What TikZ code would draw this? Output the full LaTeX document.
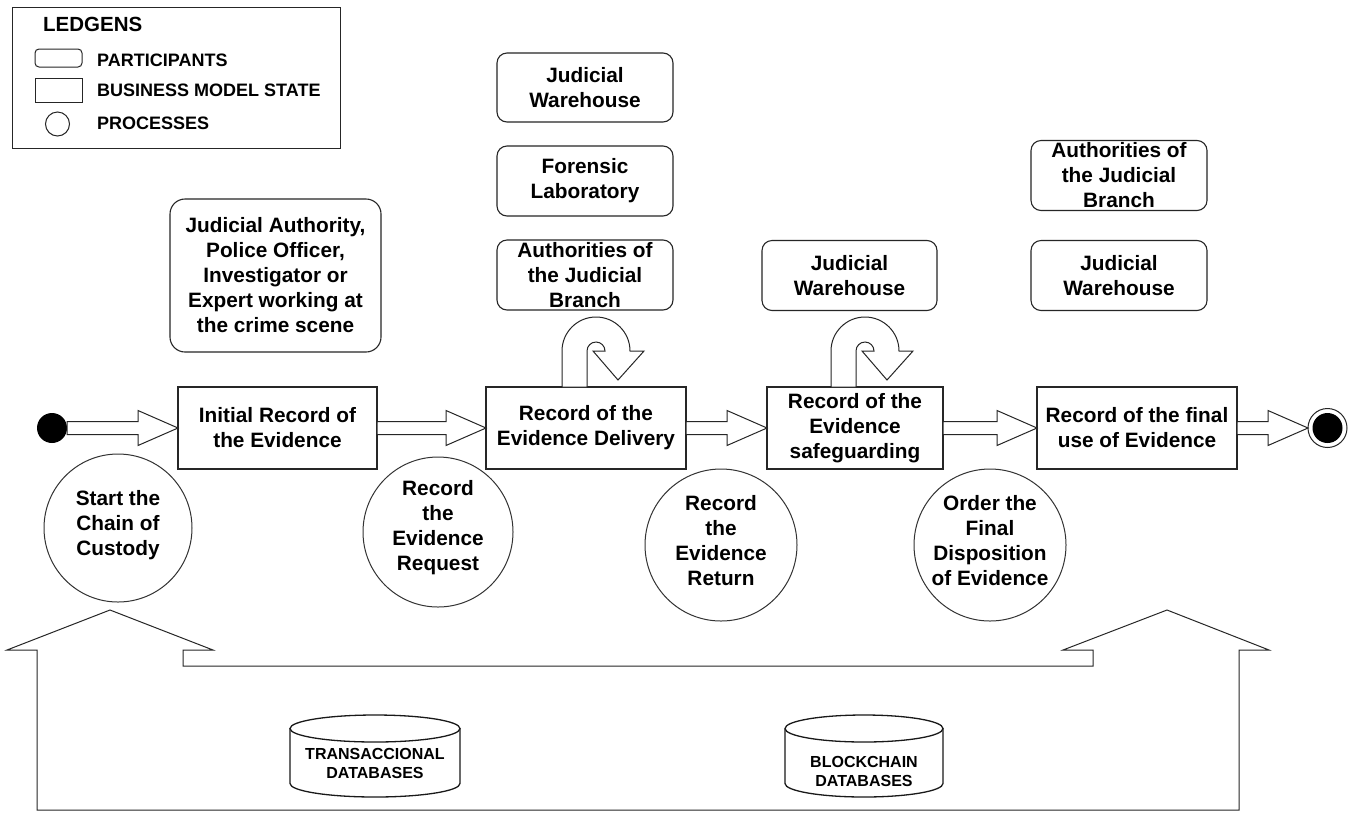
\documentclass[tikz,border=0pt]{standalone}
\usepackage{fontspec}
\setmainfont{Liberation Sans}
\usetikzlibrary{calc}
\tikzset{
  lbl/.style={font=\bfseries\fontsize{20.8}{25}\selectfont, align=center, text=black, inner sep=0pt, outer sep=0pt},
  part/.style={lbl, draw=black!85, line width=1.1pt, rounded corners=10pt, minimum width=176pt, minimum height=70pt},
  state/.style={lbl, draw=black!85, line width=1.1pt, minimum height=82pt},
  proc/.style={lbl},
  ring/.style={draw=black!80, line width=1pt},
  flow/.style={draw=black!85, line width=1pt, fill=white, line join=miter},
  dbline/.style={draw=black!90, line width=1.3pt, fill=white},
  dbtxt/.style={font=\bfseries\fontsize{16}{19}\selectfont, align=center, inner sep=0pt},
  legtxt/.style={font=\bfseries\fontsize{18}{21}\selectfont, anchor=west, inner sep=0pt},
}
\newcommand\fatarrow[2]{%
  \draw[flow] let \p1=(#1), \p2=(#2) in
    (\x1,\y1+6.5pt) -- (\x2-40pt,\y1+6.5pt) -- (\x2-40pt,\y1+17.5pt) -- (\x2,\y1)
    -- (\x2-40pt,\y1-17.5pt) -- (\x2-40pt,\y1-6.5pt) -- (\x1,\y1-6.5pt) -- cycle;}
\newcommand\loopback[1]{%
  \draw[flow] let \p1=(#1.north) in
    (\x1-24pt,\y1) -- (\x1-24pt,\y1+36pt) arc[start angle=180,end angle=0,radius=34pt]
    -- (\x1+58pt,\y1+36pt) -- (\x1+32pt,\y1+7pt) -- (\x1+7pt,\y1+36pt) -- (\x1+19pt,\y1+36pt)
    arc[start angle=0,end angle=180,radius=9pt] -- (\x1+1pt,\y1) -- cycle;}
\begin{document}
\begin{tikzpicture}[x=1pt,y=1pt]
\useasboundingbox (0,0) rectangle (1351,-812);
\fill[white] (0,0) rectangle (1351,-812);

% legend
\node (leg) [draw=black!85, line width=1pt, minimum width=328pt, minimum height=141pt, inner sep=0pt, outer sep=0pt] at (176,-77.5) {};
\node (legt) [legtxt, font=\bfseries\fontsize{20.5}{24}\selectfont] at (43,-24) {LEDGENS};
\node (legp) [draw=black!85, line width=1pt, rounded corners=4pt, minimum width=47pt, minimum height=18pt, inner sep=0pt] at (58.5,-58) {};
\node (legb) [draw=black!85, line width=1pt, minimum width=47pt, minimum height=24pt, inner sep=0pt] at (58.5,-90) {};
\node (legc) [draw=black!85, line width=1pt, circle, minimum size=24pt, inner sep=0pt] at (57.5,-124) {};
\node (legpt) [legtxt] at (97,-60) {PARTICIPANTS};
\node (legbt) [legtxt] at (97,-90) {BUSINESS MODEL STATE};
\node (legct) [legtxt] at (97,-123) {PROCESSES};

% business model states
\node (b1) [state, minimum width=199pt] at (277.5,-428) {Initial Record of\\the Evidence};
\node (b2) [state, minimum width=200pt] at (586,-428) {Record of the\\Evidence Delivery};
\node (b3) [state, minimum width=176pt] at (855,-428) {Record of the\\Evidence\\safeguarding};
\node (b4) [state, minimum width=200pt] at (1137,-428) {Record of the final\\use of Evidence};

% participants
\node (p1) [part, minimum width=211pt, minimum height=153pt, rounded corners=15pt] at (275.5,-275.5) {Judicial Authority,\\Police Officer,\\Investigator or\\Expert working at\\the crime scene};
\node (p2a) [part, minimum height=69pt] at (585,-87.5) {Judicial\\Warehouse};
\node (p2b) [part] at (585,-181) {Forensic\\Laboratory};
\node (p2c) [part] at (585,-275) {Authorities of\\the Judicial\\Branch};
\node (p3) [part, minimum width=175pt] at (849.5,-275.5) {Judicial\\Warehouse};
\node (p4a) [part] at (1119,-175.5) {Authorities of\\the Judicial\\Branch};
\node (p4b) [part] at (1119,-275.5) {Judicial\\Warehouse};

% loop arrows
\loopback{b2}
\loopback{b3}

% start / end
\node (s) [circle, fill=black, minimum size=30pt, inner sep=0pt, outer sep=0pt] at (52,-428) {};
\node (e) [circle, draw=black!85, line width=1pt, minimum size=39pt, inner sep=0pt, outer sep=0pt] at (1327.5,-428) {};
\node (ei) [circle, fill=black, minimum size=30pt, inner sep=0pt] at (e.center) {};

% flow arrows
\fatarrow{s.east}{b1.west}
\fatarrow{b1.east}{b2.west}
\fatarrow{b2.east}{b3.west}
\fatarrow{b3.east}{b4.west}
\fatarrow{b4.east}{e.west}

% processes
\node (c0) [proc] at (118,-525) {Start the\\Chain of\\Custody};
\node (c1) [proc] at (438,-528) {Record\\the\\Evidence\\Request};
\node (c2) [proc] at (721,-541) {Record\\the\\Evidence\\Return};
\node (c3) [proc] at (990,-541) {Order the\\Final\\Disposition\\of Evidence};
\draw[ring] (118,-528) circle[radius=74];
\draw[ring] (438,-532) circle[radius=75];
\draw[ring] (721,-545) circle[radius=76];
\draw[ring] (990,-545) circle[radius=76];

% bottom double arrow frame
\draw[flow] (37,-810) -- (37,-650) -- (7,-650) -- (110,-610) -- (213,-650) -- (183,-650)
  -- (183,-666) -- (1093,-666) -- (1093,-650) -- (1063,-650) -- (1167,-610) -- (1269,-650)
  -- (1239,-650) -- (1239,-810) -- cycle;

% databases
\draw[dbline] (290,-728.5) -- (290,-783.5) arc[start angle=180,end angle=360,x radius=85,y radius=13.5] -- (460,-728.5);
\draw[dbline] (375,-728.5) ellipse[x radius=85,y radius=13.5];
\node (dA) [dbtxt] at (375,-763) {TRANSACCIONAL\\DATABASES};
\draw[dbline] (785,-728.5) -- (785,-783.5) arc[start angle=180,end angle=360,x radius=79,y radius=13.5] -- (943,-728.5);
\draw[dbline] (864,-728.5) ellipse[x radius=79,y radius=13.5];
\node (dB) [dbtxt] at (864,-771) {BLOCKCHAIN\\DATABASES};
\end{tikzpicture}
\end{document}
